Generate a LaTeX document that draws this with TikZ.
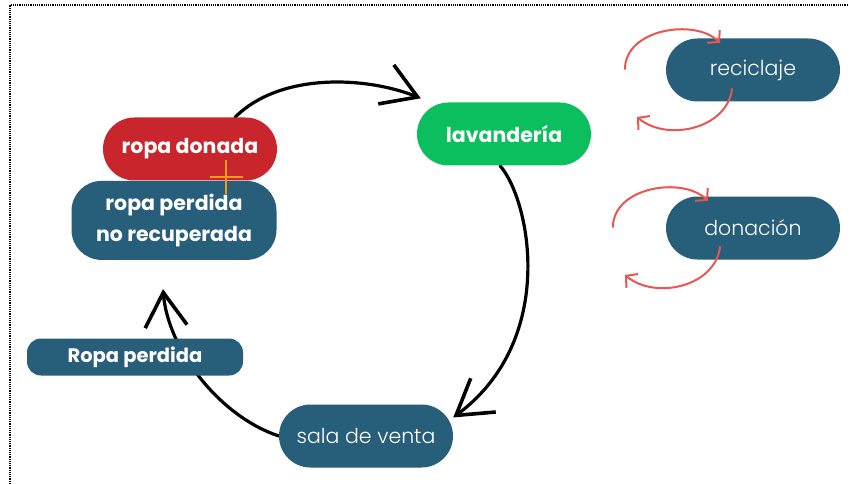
\documentclass[tikz,border=0pt]{standalone}
\usepackage{fontspec}
\setmainfont{Poppins}
\newfontfamily\lightfont{Poppins Light}
\usetikzlibrary{arrows.meta,positioning,calc,backgrounds}
\definecolor{rednode}{HTML}{C9252C}
\definecolor{bluenode}{HTML}{275E7A}
\definecolor{greennode}{HTML}{0BBF5E}
\definecolor{redarrow}{HTML}{E8564F}
\definecolor{orangeplus}{HTML}{F39A1A}
\tikzset{
      pill/.style = {rounded corners=31.5pt, minimum width=174pt, minimum height=63pt,
                     inner sep=0pt, text=white, align=center},  % <--- pill shaped boxes
  boldpill/.style = {pill, font=\fontsize{20.5pt}{31pt}\selectfont\bfseries},
 lightpill/.style = {pill, fill=bluenode, font=\fontsize{20.5pt}{24pt}\selectfont\lightfont},
  blackarr/.style = {-{Straight Barb[length=34pt,width=42pt,line width=3.6pt]},
                     line width=3.2pt, line cap=round},        % <--- big cycle arrows
    redarr/.style = {-{Straight Barb[length=8pt,width=18pt]}, line width=2pt,
                     redarrow, line cap=round},
        }

\begin{document}
\begin{tikzpicture}[x=1pt,y=-1pt]
\useasboundingbox (0,0) rectangle (849,484);
\draw[densely dotted, line width=1.2pt] (10,484) -- (10,5) -- (849,5);
 \path (190,149) node[boldpill,fill=rednode](don){ropa donada};
 \path node[boldpill,fill=bluenode,minimum width=205pt,minimum height=79pt,
    rounded corners=30pt,below=0pt of don,xshift=-16pt](perd){ropa perdida\\no recuperada};
 \path (504,134) node[boldpill,fill=greennode](lav){lavandería}
       (753,70) node[lightpill](rec){reciclaje}
       (753,228) node[lightpill](dona){donación}
       (366,436) node[lightpill](sal){sala de venta};
 \path (135,357) node[boldpill,fill=bluenode,minimum width=216pt,minimum height=37pt,
    rounded corners=14pt,font=\fontsize{19.5pt}{22pt}\selectfont\bfseries](rp){Ropa perdida};
 % plus sign between the two boxes
 \coordinate (pl) at (226,177);
 \draw[orangeplus,line width=2.8pt] ($(pl)+(-16,0)$) -- ($(pl)+(17,0)$)
    ($(pl)+(0,-17)$) -- ($(pl)+(0,17)$);
 \begin{scope}[on background layer]
 \draw[blackarr] ($(don.north)+(45,0)$) .. controls +(45,-45) and +(-55,-22) .. ($(lav.north west)+(4,-4)$);
 \draw[blackarr] ($(lav.south)+(-4,0)$) .. controls +(30,34) and +(105,-78) .. (sal.12);
 \draw[blackarr] (sal.west) .. controls +(-60,-20) and +(5,60) .. ($(perd.south)+(-11,29)$);
 \end{scope}
 \foreach \n/\d in {rec/0,dona/12} {
 \draw[redarr] ($(\n)+(-128-\d,-1)$) .. controls +(0,-40) and +(-25,-25) .. ($(\n)+(-33-\d,-27)$);
 \draw[redarr] ($(\n)+(-21-\d,19)$) .. controls +(-5,40) and +(30,25) .. ($(\n)+(-116-\d,47)$);
 }
\end{tikzpicture}
\end{document}
